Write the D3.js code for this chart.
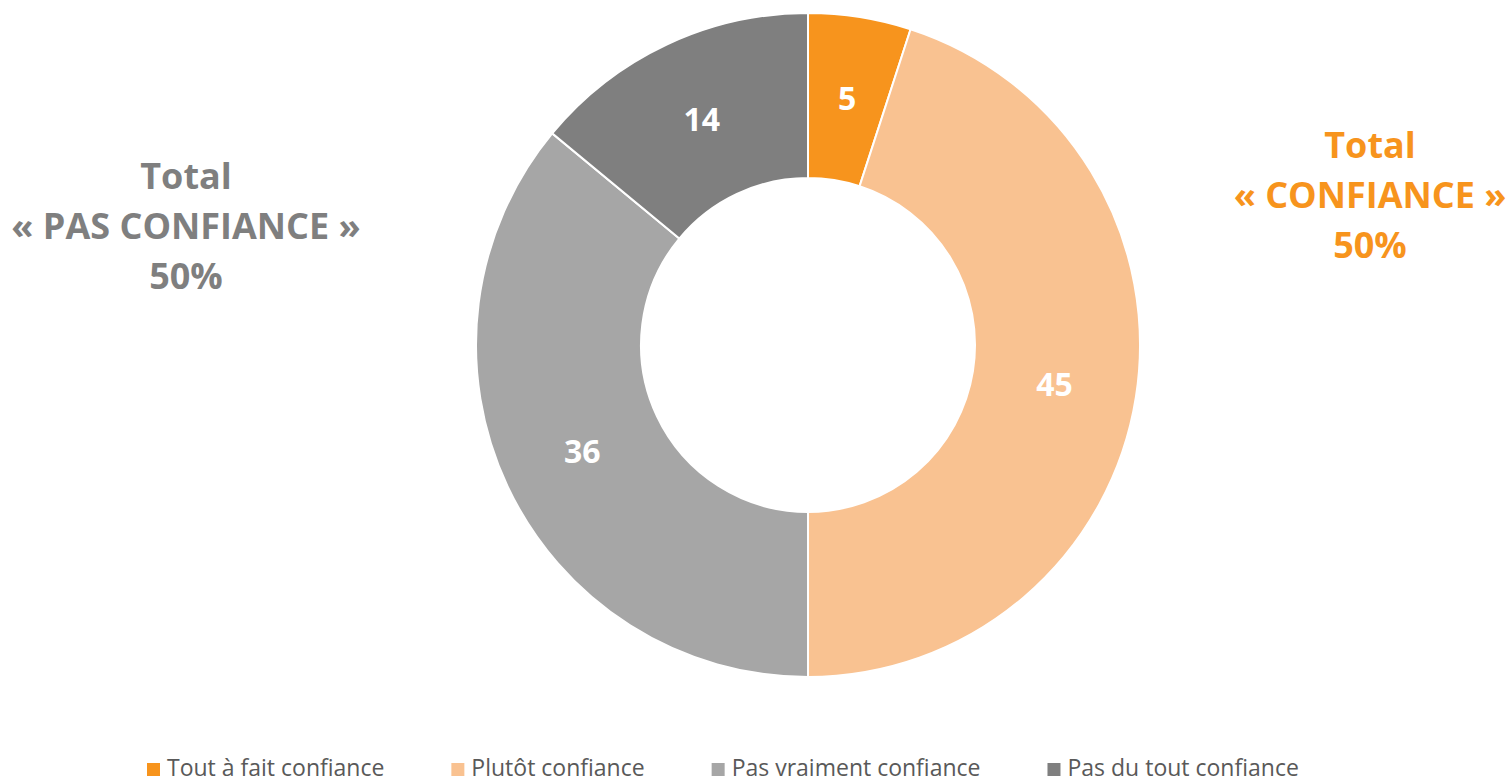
<!DOCTYPE html>
<html>
<head>
<meta charset="utf-8">
<script src="https://cdn.jsdelivr.net/npm/d3@7"></script>
<style>
  body { margin: 0; background: #fff; }
  svg text { font-family: "Open Sans", Lato, sans-serif; }
</style>
</head>
<body>
<div id="chartArea"></div>
<script>
const categories = ["Tout à fait confiance", "Plutôt confiance", "Pas vraiment confiance", "Pas du tout confiance"];
const values = [5, 45, 36, 14];
const colors = ["#F7941D", "#F9C291", "#A6A6A6", "#7F7F7F"];
const totalLeft = ["Total", "« PAS CONFIANCE »", "50%"];
const totalRight = ["Total", "« CONFIANCE »", "50%"];

const width = 1509, height = 782;
const cx = 808, cy = 345;
const outerR = 332, innerR = 167;

const svg = d3.select("#chartArea")
              .append("svg")
              .attr("width", width)
              .attr("height", height);

const pie = d3.pie().sort(null).value(d => d);
const arc = d3.arc().innerRadius(innerR).outerRadius(outerR);

const g = svg.append("g").attr("transform", `translate(${cx},${cy})`);

g.selectAll("path")
  .data(pie(values))
  .enter().append("path")
    .attr("d", arc)
    .attr("fill", (d, i) => colors[i])
    .attr("stroke", "#fff")
    .attr("stroke-width", 2);

g.selectAll("text.val")
  .data(pie(values))
  .enter().append("text")
    .attr("class", "val")
    .attr("transform", d => `translate(${arc.centroid(d)})`)
    .attr("text-anchor", "middle")
    .attr("dy", "0.36em")
    .attr("fill", "#fff")
    .attr("font-weight", "bold")
    .attr("font-size", 32)
    .text(d => d.data);

// side totals
function drawTotal(lines, x, y0, color) {
  svg.append("g").selectAll("text")
    .data(lines)
    .enter().append("text")
      .attr("x", x)
      .attr("y", (d, i) => y0 + i * 50)
      .attr("text-anchor", "middle")
      .attr("fill", color)
      .attr("font-weight", "bold")
      .attr("font-size", 36)
      .text(d => d);
}
drawTotal(totalLeft, 186, 189, "#7F7F7F");
drawTotal(totalRight, 1370, 158, "#F7941D");

// legend
const legend = svg.append("g");
let lx = 147;
categories.forEach((c, i) => {
  const item = legend.append("g").attr("transform", `translate(${lx},0)`);
  item.append("rect").attr("x", 0).attr("y", 763).attr("width", 13).attr("height", 13).attr("fill", colors[i]);
  const t = item.append("text")
    .attr("x", 20)
    .attr("y", 776)
    .attr("fill", "#595959")
    .attr("font-size", 23)
    .text(c);
  lx += 20 + t.node().getComputedTextLength() + 67;
});
</script>
</body>
</html>
